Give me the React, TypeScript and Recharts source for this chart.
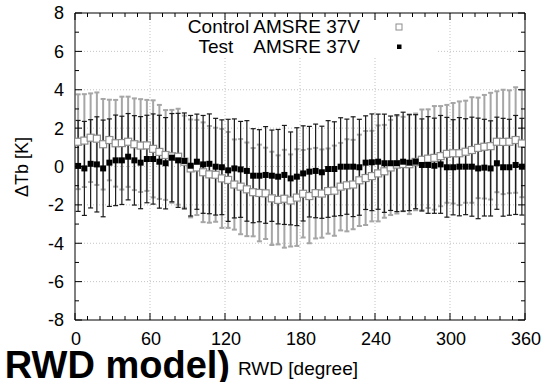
import React from "react";
import { ScatterChart, Scatter, XAxis, YAxis, CartesianGrid, ErrorBar } from "recharts";

const FONT = "'Liberation Sans', Arial, Helvetica, sans-serif";

// bin centres (degrees)
const angles = [
  2.5, 7.5, 12.5, 17.5, 22.5, 27.5, 32.5, 37.5, 42.5, 47.5, 52.5, 57.5,
  62.5, 67.5, 72.5, 77.5, 82.5, 87.5, 92.5, 97.5, 102.5, 107.5, 112.5, 117.5,
  122.5, 127.5, 132.5, 137.5, 142.5, 147.5, 152.5, 157.5, 162.5, 167.5, 172.5, 177.5,
  182.5, 187.5, 192.5, 197.5, 202.5, 207.5, 212.5, 217.5, 222.5, 227.5, 232.5, 237.5,
  242.5, 247.5, 252.5, 257.5, 262.5, 267.5, 272.5, 277.5, 282.5, 287.5, 292.5, 297.5,
  302.5, 307.5, 312.5, 317.5, 322.5, 327.5, 332.5, 337.5, 342.5, 347.5, 352.5, 357.5,
];

const controlMean = [
  1.29, 1.35, 1.5, 1.45, 1.16, 1.38, 1.21, 1.22, 1.29, 1.16, 1.09, 1.1,
  0.92, 0.76, 0.6, 0.53, 0.51, 0.25, -0.1, -0.05, -0.3, -0.41, -0.43, -0.62,
  -0.7, -0.94, -1.05, -1.19, -1.34, -1.38, -1.4, -1.66, -1.74, -1.68, -1.77, -1.62,
  -1.42, -1.54, -1.39, -1.41, -1.28, -1.26, -1.05, -0.98, -0.94, -0.72, -0.6, -0.5,
  -0.36, -0.25, -0.05, 0.1, 0.13, 0.12, 0.24, 0.35, 0.41, 0.45, 0.54, 0.66,
  0.69, 0.69, 0.77, 0.86, 0.97, 1.03, 1.06, 1.29, 1.28, 1.29, 1.38, 1.2,
];

const controlErr = [
  2.47, 2.42, 2.31, 2.41, 2.36, 2.1, 2.26, 2.42, 2.35, 2.39, 2.42, 2.37,
  2.53, 2.45, 2.34, 2.42, 2.5, 2.4, 2.55, 2.48, 2.6, 2.52, 2.45, 2.58,
  2.5, 2.35, 2.48, 2.44, 2.3, 2.52, 2.38, 2.43, 2.32, 2.55, 2.4, 2.52,
  2.28, 2.46, 2.36, 2.3, 2.22, 2.35, 2.28, 2.4, 2.33, 2.38, 2.45, 2.36,
  2.5, 2.42, 2.48, 2.55, 2.46, 2.6, 2.52, 2.62, 2.57, 2.7, 2.61, 2.55,
  2.62, 2.7, 2.66, 2.75, 2.62, 2.7, 2.78, 2.63, 2.72, 2.68, 2.75, 2.8,
];

const testMean = [
  0.03, -0.1, 0.14, 0.11, -0.1, 0.2, 0.32, 0.32, 0.51, 0.32, 0.2, 0.39,
  0.39, 0.25, 0.17, 0.46, 0.32, 0.29, 0.04, 0.25, 0.11, 0.14, -0.01, -0.04,
  -0.2, -0.1, -0.15, -0.23, -0.48, -0.48, -0.44, -0.48, -0.53, -0.44, -0.62, -0.53,
  -0.36, -0.27, -0.23, -0.3, -0.13, -0.13, -0.01, -0.01, -0.01, -0.04, 0.2, 0.22,
  0.25, 0.17, 0.17, 0.17, 0.25, 0.2, 0.25, 0.08, 0.08, 0.04, 0.11, -0.04,
  -0.04, -0.01, -0.01, -0.01, -0.1, -0.06, -0.1, 0.17, -0.04, -0.04, 0.08, -0.01,
];

const testErr = [
  2.37, 2.45, 2.3, 2.48, 2.52, 2.28, 2.36, 2.3, 2.25, 2.33, 2.4, 2.28,
  2.35, 2.42, 2.38, 2.3, 2.45, 2.5, 2.62, 2.48, 2.55, 2.6, 2.52, 2.47,
  2.66, 2.58, 2.5, 2.62, 2.45, 2.4, 2.52, 2.38, 2.46, 2.58, 2.42, 2.55,
  2.48, 2.36, 2.44, 2.4, 2.52, 2.46, 2.55, 2.48, 2.6, 2.5, 2.44, 2.52,
  2.48, 2.56, 2.46, 2.52, 2.58, 2.5, 2.45, 2.4, 2.52, 2.48, 2.55, 2.6,
  2.48, 2.56, 2.5, 2.58, 2.62, 2.52, 2.48, 2.4, 2.55, 2.5, 2.58, 2.52,
];

const xTicks = [
  0, 10, 20, 30, 40, 50, 60, 70, 80, 90, 100, 110, 120, 130, 140, 150, 160, 170, 180,
  190, 200, 210, 220, 230, 240, 250, 260, 270, 280, 290, 300, 310, 320, 330, 340, 350, 360,
];
const xGrid = [60, 120, 180, 240, 300];
const yTicks = [-8, -7, -6, -5, -4, -3, -2, -1, 0, 1, 2, 3, 4, 5, 6, 7, 8];
const yGrid = [-6, -4, -2, 0, 2, 4, 6];

const controlData = angles.map((x, i) => ({ x, y: controlMean[i], err: controlErr[i] }));
const testData = angles.map((x, i) => ({ x, y: testMean[i], err: testErr[i] }));

const W = 544;
const H = 382;

function XTick(props: any) {
  const { x, y, payload, side } = props;
  const major = payload.value % 60 === 0;
  const len = major ? 7 : 4;
  const dir = side === "bottom" ? -1 : 1;
  return (
    <g>
      <line x1={x} y1={y} x2={x} y2={y + dir * len} stroke="#000" strokeWidth={1} />
      {side === "bottom" && major && (
        <text x={x + 1} y={y + 25} textAnchor="middle" fontFamily={FONT} fontSize={18} fill="#000">
          {payload.value}
        </text>
      )}
    </g>
  );
}

function YTick(props: any) {
  const { x, y, payload, side } = props;
  const major = payload.value % 2 === 0;
  const len = major ? 7 : 4;
  const dir = side === "left" ? 1 : -1;
  return (
    <g>
      <line x1={x} y1={y} x2={x + dir * len} y2={y} stroke="#000" strokeWidth={1} />
      {side === "left" && major && (
        <text x={x - 11} y={y} dy="0.36em" textAnchor="end" fontFamily={FONT} fontSize={18} fill="#000">
          {payload.value}
        </text>
      )}
    </g>
  );
}

const ControlSquare = (p: any) => (
  <rect x={p.cx - 3.5} y={p.cy - 3.5} width={7} height={7} fill="#fff" stroke="#8c8c8c" strokeWidth={1.2} />
);
const TestSquare = (p: any) => <rect x={p.cx - 3} y={p.cy - 3} width={6} height={6} fill="#000" />;

export default function App() {
  return (
    <div style={{ position: "absolute", left: 0, top: 0, width: W, height: H, background: "#fff" }}>
      <ScatterChart width={W} height={H} margin={{ top: 3, right: 9, bottom: 32, left: 35 }}>
        <CartesianGrid
          horizontalValues={yGrid}
          verticalValues={xGrid}
          stroke="#c4c4c4"
          strokeDasharray="1 2"
        />
        <XAxis
          type="number"
          dataKey="x"
          domain={[0, 360]}
          ticks={xTicks}
          interval={0}
          height={30}
          tickSize={0}
          tickMargin={0}
          tickLine={false}
          axisLine={{ stroke: "#000" }}
          tick={(p: any) => <XTick {...p} side="bottom" />}
          allowDataOverflow
        />
        <XAxis
          xAxisId="top"
          orientation="top"
          type="number"
          dataKey="x"
          domain={[0, 360]}
          ticks={xTicks}
          interval={0}
          height={10}
          tickSize={0}
          tickMargin={0}
          tickLine={false}
          axisLine={{ stroke: "#000" }}
          tick={(p: any) => <XTick {...p} side="top" />}
          allowDataOverflow
        />
        <YAxis
          type="number"
          dataKey="y"
          domain={[-8, 8]}
          ticks={yTicks}
          interval={0}
          width={40}
          tickSize={0}
          tickMargin={0}
          tickLine={false}
          axisLine={{ stroke: "#000" }}
          tick={(p: any) => <YTick {...p} side="left" />}
          allowDataOverflow
        />
        <YAxis
          yAxisId="right"
          orientation="right"
          type="number"
          dataKey="y"
          domain={[-8, 8]}
          ticks={yTicks}
          interval={0}
          width={10}
          tickSize={0}
          tickMargin={0}
          tickLine={false}
          axisLine={{ stroke: "#000" }}
          tick={(p: any) => <YTick {...p} side="right" />}
          allowDataOverflow
        />
        <Scatter name="Control AMSRE 37V" data={controlData} shape={ControlSquare} isAnimationActive={false}>
          <ErrorBar dataKey="err" direction="y" width={2.5} stroke="#a6a6a6" strokeWidth={2} />
        </Scatter>
        <Scatter name="Test AMSRE 37V" data={testData} shape={TestSquare} isAnimationActive={false}>
          <ErrorBar dataKey="err" direction="y" width={2.5} stroke="#1a1a1a" strokeWidth={1.2} />
        </Scatter>
      </ScatterChart>
      <svg
        width={W}
        height={H}
        style={{ position: "absolute", left: 0, top: 0, pointerEvents: "none" }}
        fontFamily={FONT}
      >
        <rect x={163} y={21} width={273} height={36} fill="#fff" />
        <text x={360} y={33} textAnchor="end" fontSize={19} fill="#000">
          Control AMSRE 37V
        </text>
        <text x={360} y={53} textAnchor="end" fontSize={19} fill="#000" style={{ whiteSpace: "pre" }}>
          {"Test    AMSRE 37V"}
        </text>
        <rect x={396} y={24} width={6} height={6} fill="#fff" stroke="#8c8c8c" strokeWidth={1} />
        <rect x={397} y={44.5} width={4.5} height={4.5} fill="#000" />
        <text
          x={22}
          y={167}
          transform="rotate(-90 22 167)"
          textAnchor="middle"
          dy="0.35em"
          fontSize={18}
          fill="#000"
        >
          ΔTb [K]
        </text>
        <text x={298} y={375} textAnchor="middle" fontSize={19} fill="#000">
          RWD [degree]
        </text>
        <text x={230} y={378} textAnchor="end" fontSize={38} fontWeight="bold" fill="#000">
          RWD model)
        </text>
      </svg>
    </div>
  );
}
